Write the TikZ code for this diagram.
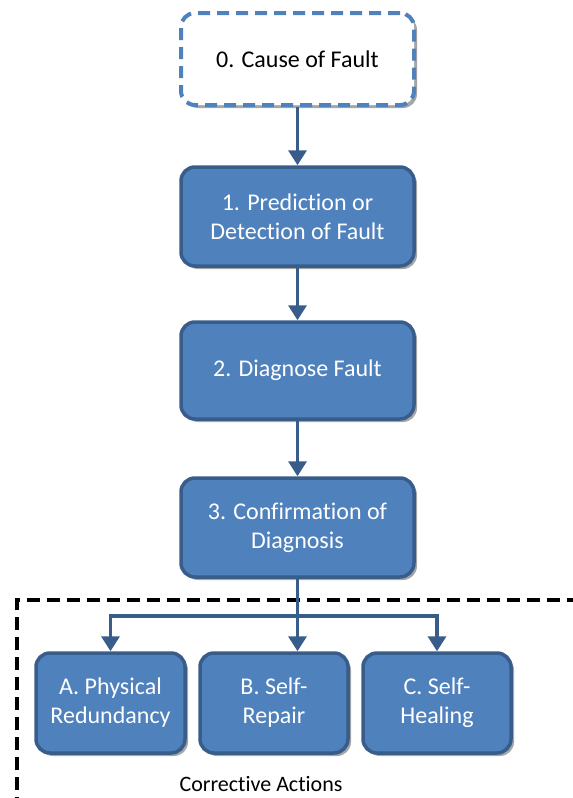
\documentclass[tikz,border=0pt]{standalone}
\usepackage{fontspec}
\setmainfont[Ligatures=NoCommon]{Carlito}
\usetikzlibrary{shadows,arrows.meta}
\definecolor{boxfill}{HTML}{4F81BD}
\definecolor{boxline}{HTML}{385D8A}
\tikzset{
  box/.style={draw=boxline, fill=boxfill, line width=3.5pt, rounded corners=14pt,
     text=white, font=\fontsize{24}{29}\selectfont, align=center, inner sep=0pt,
     drop shadow={shadow xshift=3pt, shadow yshift=-3pt, opacity=0.35, fill=black}},
  dbox/.style={box, fill=white, draw=boxfill, line width=4pt, dash pattern=on 12pt off 7pt, text=black},
  conn/.style={draw=boxline, line width=3.5pt, -{Triangle[length=15pt,width=18pt]}},
  plain/.style={draw=boxline, line width=3.5pt},
}
\begin{document}
\begin{tikzpicture}[x=1pt,y=-1pt]
\useasboundingbox (0,0) rectangle (573,798);
\draw[black, line width=4pt, dash pattern=on 13pt off 7pt] (17,810) -- (17,600) -- (580,600);
\node[dbox, minimum width=233pt, minimum height=92pt] (n0) at (297.5,59) {0. Cause of Fault};
\node[box, minimum width=233pt, minimum height=99pt] (n1) at (297.5,216.5) {1. Prediction or\\Detection of Fault};
\node[box, minimum width=233pt, minimum height=97pt] (n2) at (297.5,370.5) {2. Diagnose Fault};
\node[box, minimum width=233pt, minimum height=99pt] (n3) at (297.5,527.5) {3. Confirmation of\\Diagnosis};
\node[box, minimum width=149pt, minimum height=100pt] (a) at (110.5,703) {A. Physical\\Redundancy};
\node[box, minimum width=148pt, minimum height=100pt] (b) at (274,703) {B. Self-\\Repair};
\node[box, minimum width=148pt, minimum height=100pt] (c) at (437,703) {C. Self-\\Healing};
\node[font=\fontsize{22}{26}\selectfont] (lab) at (261,784) {Corrective Actions};
\coordinate (j) at (297.5,616);
\draw[conn] (n0.south) -- (n1.north);
\draw[conn] (n1.south) -- (n2.north);
\draw[conn] (n2.south) -- (n3.north);
\draw[plain] (n3.south) -- (j);
\draw[conn] (j) -- (j -| a) -- (a.north);
\draw[conn] (j) -- (j -| c) -- (c.north);
\draw[conn] (n3.south) -- (n3.south |- b.north);
\end{tikzpicture}
\end{document}
